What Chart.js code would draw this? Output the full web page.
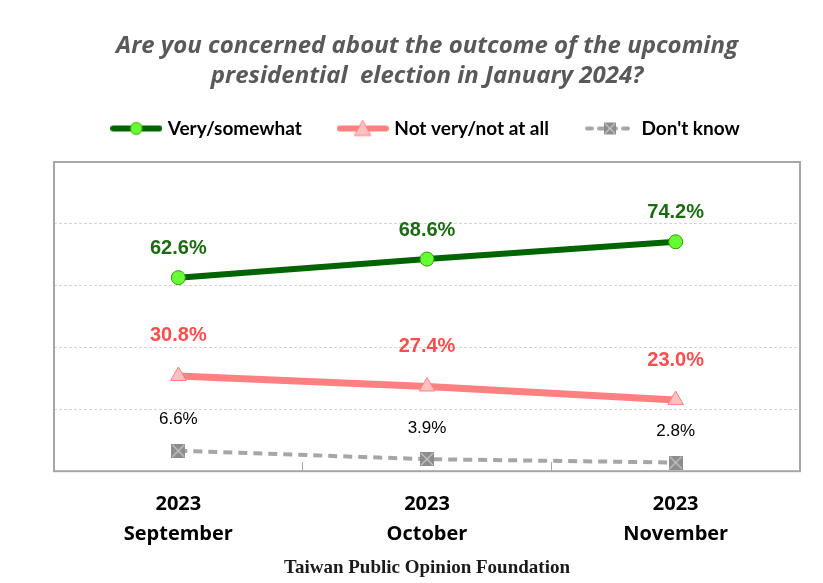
<!DOCTYPE html>
<html>
<head>
<meta charset="utf-8">
<script src="https://cdn.jsdelivr.net/npm/chart.js@4.4.1/dist/chart.umd.min.js"></script>
<style>
  html, body { margin: 0; padding: 0; background: #fff; }
  #chart { display: block; }
</style>
</head>
<body>
<canvas id="chart" width="823" height="583"></canvas>
<script>
const years = ['2023', '2023', '2023'];
const months = ['September', 'October', 'November'];
const verySomewhat = [62.6, 68.6, 74.2];
const notVery = [30.8, 27.4, 23.0];
const dontKnow = [6.6, 3.9, 2.8];
const seriesNames = ['Very/somewhat', 'Not very/not at all', "Don't know"];
const yTicks = [0, 20, 40, 60, 80, 100];

const labels = years.map((y, i) => [y, months[i]]);

// marker for "Don't know": grey square with a light cross
function makeSquareX(size) {
    const c = document.createElement('canvas');
    c.width = size; c.height = size;
    const g = c.getContext('2d');
    g.fillStyle = '#8c8c8c';
    g.fillRect(0, 0, size, size);
    g.strokeStyle = '#c8c8c8';
    g.lineWidth = 1.2;
    g.beginPath();
    g.moveTo(1, 1); g.lineTo(size - 1, size - 1);
    g.moveTo(size - 1, 1); g.lineTo(1, size - 1);
    g.stroke();
    return c;
}
const squareX = makeSquareX(14);

// legend symbols: a short line with the marker in the middle
function legendSymbol(kind) {
    const w = 52, h = 18;
    const c = document.createElement('canvas');
    c.width = w; c.height = h;
    const g = c.getContext('2d');
    const cy = h / 2;
    if (kind === 0) {
        g.strokeStyle = '#006400'; g.lineWidth = 6; g.lineCap = 'round';
        g.beginPath(); g.moveTo(3, cy); g.lineTo(w - 3, cy); g.stroke();
        g.fillStyle = '#66ff33'; g.strokeStyle = '#339900'; g.lineWidth = 1;
        g.beginPath(); g.arc(w / 2, cy, 6, 0, Math.PI * 2); g.fill(); g.stroke();
    } else if (kind === 1) {
        g.strokeStyle = '#ff8080'; g.lineWidth = 6; g.lineCap = 'round';
        g.beginPath(); g.moveTo(3, cy); g.lineTo(w - 3, cy); g.stroke();
        g.fillStyle = '#ffc0c0'; g.strokeStyle = '#ff8080'; g.lineWidth = 1;
        g.beginPath(); g.moveTo(w / 2, cy - 8); g.lineTo(w / 2 + 8, cy + 7); g.lineTo(w / 2 - 8, cy + 7); g.closePath();
        g.fill(); g.stroke();
    } else {
        g.strokeStyle = '#a6a6a6'; g.lineWidth = 4; g.lineCap = 'round';
        g.setLineDash([5, 7]);
        g.beginPath(); g.moveTo(3, cy); g.lineTo(w - 3, cy); g.stroke();
        g.drawImage(makeSquareX(12), w / 2 - 6, cy - 6);
    }
    return c;
}
const legendSymbols = [legendSymbol(0), legendSymbol(1), legendSymbol(2)];

const plotBorder = {
    id: 'plotBorder',
    afterDraw(chart) {
        const a = chart.chartArea;
        const ctx = chart.ctx;
        ctx.save();
        ctx.strokeStyle = '#a6a6a6';
        ctx.lineWidth = 2;
        ctx.strokeRect(a.left, a.top, a.right - a.left, a.bottom - a.top);
        ctx.restore();
    }
};

const valueLabels = {
    id: 'valueLabels',
    afterDatasetsDraw(chart) {
        const ctx = chart.ctx;
        chart.data.datasets.forEach((ds, i) => {
            const meta = chart.getDatasetMeta(i);
            ctx.save();
            ctx.font = ds.labelFont;
            ctx.fillStyle = ds.labelColor;
            ctx.textAlign = 'center';
            ctx.textBaseline = 'middle';
            meta.data.forEach((pt, j) => {
                ctx.fillText(ds.data[j].toFixed(1) + '%', pt.x, pt.y - ds.labelOffset);
            });
            ctx.restore();
        });
    }
};

const narrow = "'Liberation Sans Narrow', 'Arial Narrow', 'Liberation Sans', Arial, sans-serif";

new Chart(document.getElementById('chart'), {
    type: 'line',
    data: {
        labels: labels,
        datasets: [{
            label: seriesNames[0],
            data: verySomewhat,
            borderColor: '#006400',
            borderWidth: 6,
            pointStyle: 'circle',
            pointRadius: 7,
            pointBackgroundColor: '#66ff33',
            pointBorderColor: '#339900',
            pointBorderWidth: 1,
            labelColor: '#1c6b12',
            labelFont: "bold 20px " + narrow,
            labelOffset: 29
        }, {
            label: seriesNames[1],
            data: notVery,
            borderColor: '#ff8080',
            borderWidth: 7,
            pointStyle: 'triangle',
            pointRadius: 9,
            pointBackgroundColor: '#ffc0c0',
            pointBorderColor: '#ff8080',
            pointBorderWidth: 1,
            labelColor: '#ff4d4d',
            labelFont: "bold 20px " + narrow,
            labelOffset: 40
        }, {
            label: seriesNames[2],
            data: dontKnow,
            borderColor: '#a6a6a6',
            borderWidth: 4,
            borderDash: [9, 6],
            pointStyle: squareX,
            pointRadius: 7,
            labelColor: '#000000',
            labelFont: "17px " + narrow,
            labelOffset: 31
        }]
    },
    options: {
        responsive: false,
        animation: false,
        layout: { padding: { left: 54, right: 23, bottom: 4 } },
        plugins: {
            title: {
                display: true,
                text: ['Are you concerned about the outcome of the upcoming', 'presidential  election in January 2024?'],
                color: '#595959',
                font: { family: "'Open Sans', sans-serif", size: 24, weight: 'bold', style: 'italic', lineHeight: 1.25 },
                padding: { top: 31, bottom: -11 }
            },
            subtitle: {
                display: true,
                position: 'bottom',
                text: 'Taiwan Public Opinion Foundation',
                color: '#1a1a1a',
                font: { family: "'Liberation Serif', serif", size: 19, weight: 'bold' },
                padding: { top: -20, bottom: 0 }
            },
            legend: {
                labels: {
                    usePointStyle: true,
                    pointStyleWidth: 44,
                    padding: 39,
                    color: '#000',
                    font: { family: "Lato, 'Open Sans', sans-serif", size: 19, weight: 'bold' },
                    generateLabels(chart) {
                        return chart.data.datasets.map((ds, i) => ({
                            text: ds.label,
                            pointStyle: legendSymbols[i],
                            fillStyle: 'transparent',
                            strokeStyle: 'transparent',
                            lineWidth: 0,
                            fontColor: '#000',
                            datasetIndex: i
                        }));
                    }
                }
            },
            tooltip: { enabled: false }
        },
        scales: {
            x: {
                offset: true,
                grid: { offset: true, drawOnChartArea: false, drawTicks: true, tickLength: -9, color: '#a6a6a6' },
                border: { display: false },
                ticks: {
                    color: '#000',
                    padding: 27,
                    font: { family: "'Open Sans', sans-serif", size: 20, weight: 'bold', lineHeight: 1.5 }
                }
            },
            // empty top axis, only to leave a gap between legend and plot
            gap: {
                type: 'category',
                position: 'top',
                grid: { display: false, drawTicks: false },
                border: { display: false },
                ticks: { display: false },
                title: { display: true, text: '', font: { size: 1, lineHeight: 1 }, padding: { top: 13, bottom: 0 } }
            },
            y: {
                min: yTicks[0],
                max: yTicks[yTicks.length - 1],
                afterBuildTicks(scale) { scale.ticks = yTicks.map(v => ({ value: v })); },
                ticks: { display: false },
                grid: { drawTicks: false, color: '#d4d4d4', lineWidth: 1 },
                border: { display: false, dash: [3, 2] }
            }
        }
    },
    plugins: [plotBorder, valueLabels]
});
</script>
</body>
</html>
